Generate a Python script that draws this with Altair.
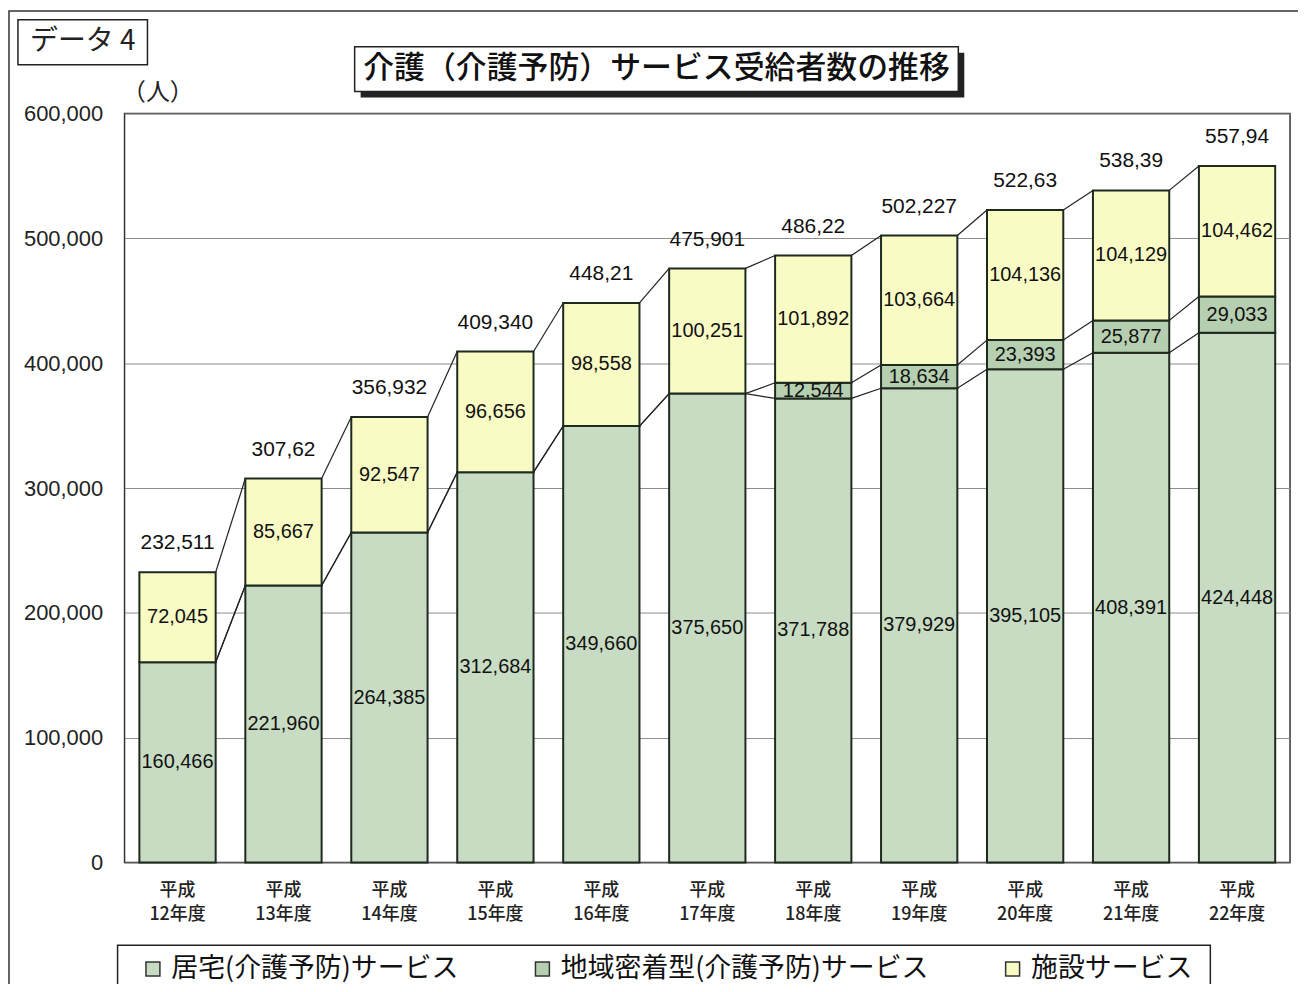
import altair as alt
import pandas as pd

# ---------------- data ----------------
years = ["平成12年度", "平成13年度", "平成14年度", "平成15年度", "平成16年度", "平成17年度",
         "平成18年度", "平成19年度", "平成20年度", "平成21年度", "平成22年度"]
home = [160466, 221960, 264385, 312684, 349660, 375650, 371788, 379929, 395105, 408391, 424448]
community = [0, 0, 0, 0, 0, 0, 12544, 18634, 23393, 25877, 29033]
facility = [72045, 85667, 92547, 96656, 98558, 100251, 101892, 103664, 104136, 104129, 104462]
total_labels = ["232,511", "307,62", "356,932", "409,340", "448,21", "475,901",
                "486,22", "502,227", "522,63", "538,39", "557,94"]
series = ["居宅(介護予防)サービス", "地域密着型(介護予防)サービス", "施設サービス"]
colors = ["#c8dcc3", "#b5cfb0", "#f9fbc4"]
y_ticks = [0, 100000, 200000, 300000, 400000, 500000, 600000]

# ---------------- tables ----------------
rows = []
levels = []
for i, yr in enumerate(years):
    vals = [home[i], community[i], facility[i]]
    base = 0
    lv = []
    for k, s in enumerate(series):
        v = vals[k]
        top = base + v
        if v > 0:
            rows.append({"year": yr, "series": s, "ord": k, "y0": base, "y1": top,
                         "mid": (base + top) / 2, "label": f"{v:,}"})
        lv.append(top)
        base = top
    levels.append(lv)
seg = pd.DataFrame(rows)

tot = pd.DataFrame({"year": years, "total": [l[-1] for l in levels], "label": total_labels})

con_rows = []
for i in range(len(years) - 1):
    for k in range(3):
        con_rows.append({"year": years[i], "next": years[i + 1],
                         "ya": levels[i][k], "yb": levels[i + 1][k]})
con = pd.DataFrame(con_rows)

one = pd.DataFrame({"a": [0]})

W, H = 1170, 752
half_bar = W / len(years) * 0.72 / 2

xscale = alt.Scale(domain=years, paddingInner=0.28, paddingOuter=0.14)
yscale = alt.Scale(domain=[0, 600000], nice=False)

xenc = alt.X("year:N", scale=xscale, sort=years,
             axis=alt.Axis(title=None, labelAngle=0, ticks=False, domain=False,
                           labelExpr="[slice(datum.label,0,2), slice(datum.label,2)]",
                           labelFont="Noto Sans CJK JP", labelFontSize=18, labelLineHeight=24,
                           labelFontWeight=500,
                           labelColor="#222", labelPadding=19, labelBaseline="top"))

# ---------------- decorations ----------------
frame = alt.Chart(one).mark_rect(fill=None, stroke="#333", strokeWidth=1.5).encode(
    x=alt.value(-116), x2=alt.value(1220), y=alt.value(-103), y2=alt.value(900))
data4_box = alt.Chart(one).mark_rect(fill="white", stroke="#222", strokeWidth=1.5).encode(
    x=alt.value(-107), x2=alt.value(23), y=alt.value(-94), y2=alt.value(-49))
data4_text = alt.Chart(one).mark_text(font="Noto Sans CJK JP", fontSize=28, color="#222",
                                      baseline="middle", align="center").encode(
    x=alt.value(-42), y=alt.value(-72), text=alt.value("データ 4"))
title_shadow = alt.Chart(one).mark_rect(fill="#222").encode(
    x=alt.value(237), x2=alt.value(843), y=alt.value(-61), y2=alt.value(-16))
title_box = alt.Chart(one).mark_rect(fill="white", stroke="#222", strokeWidth=1.5).encode(
    x=alt.value(231), x2=alt.value(837), y=alt.value(-67), y2=alt.value(-22))
title_text = alt.Chart(one).mark_text(font="Noto Sans CJK JP", fontSize=31, color="#111",
                                      fontWeight=500, baseline="middle", align="center").encode(
    x=alt.value(534), y=alt.value(-45), text=alt.value("介護（介護予防）サービス受給者数の推移"))
legend_box = alt.Chart(one).mark_rect(fill=None, stroke="#222", strokeWidth=1.5).encode(
    x=alt.value(-7), x2=alt.value(1090), y=alt.value(835), y2=alt.value(900))

# ---------------- chart ----------------
bars = alt.Chart(seg).mark_bar(stroke="#1e2a1e", strokeWidth=2).encode(
    x=xenc,
    y=alt.Y("y0:Q", scale=yscale,
            axis=alt.Axis(values=y_ticks, format=",d", labelFont="Liberation Sans",
                          labelFontSize=22, labelColor="#222", labelPadding=22,
                          ticks=False, domain=False, gridColor="#8c8c8c", gridWidth=1,
                          title="（人）", titleAngle=0, titleX=33, titleY=-21,
                          titleAlign="center", titleBaseline="middle",
                          titleFont="Noto Sans CJK JP", titleFontSize=24,
                          titleFontWeight="normal", titleColor="#222")),
    y2="y1:Q",
    color=alt.Color("series:N", scale=alt.Scale(domain=series, range=colors),
                    legend=alt.Legend(title=None, orient="none", legendX=15, legendY=845,
                                      direction="horizontal", symbolType="square",
                                      symbolSize=196, symbolStrokeColor="#333",
                                      symbolStrokeWidth=1.5, symbolOpacity=1,
                                      labelFont="Noto Sans CJK JP", labelFontSize=27,
                                      labelColor="#111", labelOffset=5,
                                      columnPadding=70, labelLimit=600)),
    order=alt.Order("ord:Q"),
)

connectors = alt.Chart(con).mark_rule(color="#222", strokeWidth=1.2,
                                      xOffset=half_bar, x2Offset=-half_bar).encode(
    x=alt.X("year:N", scale=xscale, sort=years),
    x2="next:N",
    y=alt.Y("ya:Q", scale=yscale),
    y2="yb:Q",
)

seg_text = alt.Chart(seg).mark_text(font="Liberation Sans", fontSize=20, color="#111",
                                    baseline="middle").encode(
    x=alt.X("year:N", scale=xscale, sort=years),
    y=alt.Y("mid:Q", scale=yscale),
    text="label:N",
)

tot_text = alt.Chart(tot).mark_text(font="Liberation Sans", fontSize=21, color="#111",
                                    baseline="middle", dy=-29).encode(
    x=alt.X("year:N", scale=xscale, sort=years),
    y=alt.Y("total:Q", scale=yscale),
    text="label:N",
)

chart = alt.layer(
    frame, data4_box, data4_text, title_shadow, title_box, title_text, legend_box,
    bars, connectors, seg_text, tot_text
).properties(
    width=W, height=H,
    padding={"left": 117, "top": 104, "right": 8, "bottom": 120},
    autosize=alt.AutoSizeParams(type="none"),
    background="white",
).configure_view(stroke="#333", strokeWidth=1.5)

chart.save("out.html", embed_options={"renderer": "svg", "actions": False})
